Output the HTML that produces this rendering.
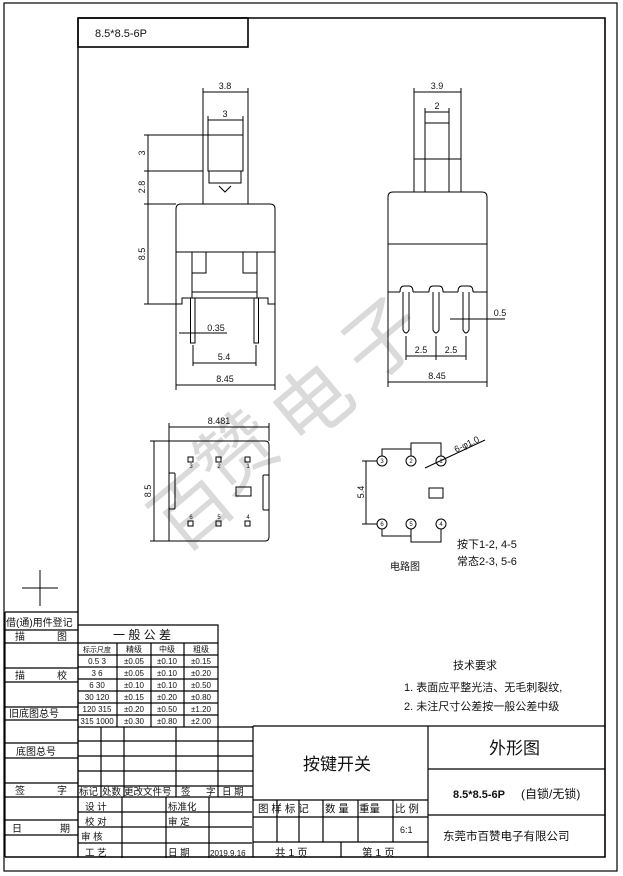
<!DOCTYPE html>
<html><head><meta charset="utf-8"><style>
html,body{margin:0;padding:0;background:#fff}
svg{display:block}
text{font-family:"Liberation Sans","Noto Sans CJK SC",sans-serif;fill:#111}
.c{font-family:"Noto Serif CJK SC","Noto Sans CJK SC",serif}
</style></head><body>
<svg width="623" height="876" viewBox="0 0 623 876" xmlns="http://www.w3.org/2000/svg">
<g fill="none" stroke="#000" stroke-width="1.2">
<rect x="4" y="3" width="613" height="868"/>
<path d="M78 18H605V857H5" stroke-width="1.6"/>
<path d="M78 18V857" stroke-width="1.4"/>
<rect x="78" y="18" width="170" height="29" stroke-width="1.6"/>
<path d="M5 612H78M5 630H78M5 643H78M5 668H78M5 682H78M5 707H78M5 720H78M5 743H78M5 758H78M5 783H78M5 797H78M5 820H78M5 835H78M5 612V857"/>
<path d="M22 588H58M40 570V606" stroke-width="1"/>
<path d="M78 625H218V727M78 643H218M78 655H218M78 667H218M78 679H218M78 691H218M78 703H218M78 715H218M78 727H253M117 643V727M151 643V727M184 643V727"/>
<path d="M78 741H253M78 756H253M78 771H253M78 786H253M78 797H253M101 727V797M124 727V797M176 727V797M218 727V797M253 726V857"/>
<path d="M78 812H252M78 827H252M78 843H252M122 797V858M166 797V858M209 797V858"/>
<path d="M253 726H605M428 726V857M253 800H428M253 817H428M253 842H428M277 800V842M299 800V842M323 800V842M358 800V842M393 800V842M341 842V857M428 769H605M428 815H605"/>
</g>
<g font-size="78" style="font-family:'Noto Sans CJK SC',sans-serif">
<text transform="translate(370,385) rotate(-40)" style="fill:#dadada">子</text>
<text transform="translate(300,450) rotate(-40)" style="fill:#dadada">电</text>
<text transform="translate(225,500) rotate(-40)" style="fill:#dadada">赞</text>
<text transform="translate(180,555) rotate(-40)" style="fill:#dadada">百</text>
</g>
<g fill="none" stroke="#000" stroke-width="1">
<path d="M203 88V204M248 88V204M203 92H248M208 116V135M243 116V135M208 120H243"/>
<rect x="208" y="135" width="35" height="36"/>
<path d="M209 171V183H241V171M219 186L225 192L231 186"/>
<path d="M176 304V209Q176 204 181 204H270Q275 204 275 209V304M176 252H275M176 304H182V298H268V304H275"/>
<path d="M192 252V298M257 252V298M192 273H206V252M243 252V273H257M192 292H257"/>
<rect x="190.5" y="298" width="4.5" height="45"/><rect x="254" y="298" width="4.5" height="45"/>
<path d="M179 333H227M193 345V366M256 345V366M193 363H256M176 304V390M275 304V390M176 385H275"/>
<path d="M148 135V304M144 135H208M144 171H203M144 204H176M144 304H176"/>
</g>
<g font-size="9" text-anchor="middle">
<text x="225" y="89">3.8</text><text x="225" y="117">3</text>
<text x="216" y="331">0.35</text><text x="224" y="360">5.4</text><text x="225" y="382">8.45</text>
<text transform="translate(145,153) rotate(-90)">3</text>
<text transform="translate(145,187) rotate(-90)">2.8</text>
<text transform="translate(145,254) rotate(-90)">8.5</text>
</g>
<g fill="none" stroke="#000" stroke-width="1">
<path d="M414 88V159M461 88V159M414 92H461M425 108V123M449 108V123M425 112H449"/>
<rect x="425" y="123" width="24" height="36"/>
<rect x="414" y="159" width="47" height="33"/><path d="M425 159V192M449 159V192"/>
<path d="M388 292V197Q388 192 393 192H482Q487 192 487 197V292M388 244H487M388 292H400M413 292H429M443 292H458M473 292H487"/>
<path d="M400 292Q400 286 404 286H409Q413 286 413 292M429 292Q429 286 433 286H439Q443 286 443 292M458 292Q458 286 462 286H469Q473 286 473 292"/>
<path d="M403 292V330Q406 336 409 330V292M433 292V330Q436 336 439 330V292M463 292V330Q466 336 469 330V292"/>
<path d="M450 319H505M406 336V360M436 336V360M466 336V360M406 356H466M388 292V387M487 292V387M388 382H487"/>
</g>
<g font-size="9" text-anchor="middle">
<text x="437" y="89">3.9</text><text x="437" y="109">2</text>
<text x="500" y="316">0.5</text><text x="421" y="353">2.5</text><text x="451" y="353">2.5</text><text x="437" y="379">8.45</text>
</g>
<g fill="none" stroke="#000" stroke-width="1">
<path d="M169 423V441M269 423V441M169 427H269"/>
<path d="M169 441H265Q269 441 269 445V537Q269 541 265 541H169Z"/>
<rect x="169" y="473" width="6" height="36" rx="1"/><rect x="263" y="475" width="6" height="35" rx="1"/>
<path d="M150 441H169M150 541H169M154 441V541"/>
<rect x="188" y="457" width="5" height="5"/><rect x="216" y="457" width="5" height="5"/><rect x="245" y="457" width="5" height="5"/>
<rect x="188" y="521" width="5" height="5"/><rect x="216" y="521" width="5" height="5"/><rect x="245" y="521" width="5" height="5"/>
<rect x="236" y="487" width="15" height="9"/>
</g>
<g font-size="6" text-anchor="middle">
<text x="191" y="468">3</text><text x="219" y="468">2</text><text x="248" y="468">1</text>
<text x="191" y="519">6</text><text x="219" y="519">5</text><text x="248" y="519">4</text>
<text x="219" y="424" font-size="9">8.481</text>
<text transform="translate(151,491) rotate(-90)" font-size="9">8.5</text>
</g>
<g fill="none" stroke="#000" stroke-width="1">
<circle cx="382" cy="461" r="5"/><circle cx="411" cy="461" r="5"/><circle cx="441" cy="461" r="5"/>
<circle cx="382" cy="524" r="5"/><circle cx="411" cy="524" r="5"/><circle cx="441" cy="524" r="5"/>
<path d="M382 456V449H411V456M411 449V443H441V456M382 529V536H411V529M411 536V542H441V529"/>
<path d="M362 461H377M362 524H377M366 461V524M425 468L485 440"/>
<rect x="429" y="488" width="14" height="10"/>
</g>
<g font-size="6" text-anchor="middle">
<text x="382" y="463">3</text><text x="411" y="463">2</text><text x="441" y="463">1</text>
<text x="382" y="526">6</text><text x="411" y="526">5</text><text x="441" y="526">4</text>
<text transform="translate(364,492) rotate(-90)" font-size="9">5.4</text>
<text transform="translate(468,447) rotate(-25)" font-size="9">6-φ1.0</text>
</g>
<g font-size="11" class="c">
<text x="390" y="570" font-size="10">电路图</text>
<text x="457" y="548">按下1-2, 4-5</text>
<text x="457" y="565">常态2-3, 5-6</text>
<text x="453" y="669">技术要求</text>
<text x="404" y="691">1. 表面应平整光洁、无毛刺裂纹,</text>
<text x="404" y="710">2. 未注尺寸公差按一般公差中级</text>
</g>
<text x="95" y="37" font-size="11">8.5*8.5-6P</text>
<g font-size="10" class="c">
<text x="6" y="626">借(通)用件登记</text>
<text x="15" y="640">描</text><text x="57" y="640">图</text>
<text x="15" y="679">描</text><text x="57" y="679">校</text>
<text x="9" y="717">旧底图总号</text>
<text x="16" y="755">底图总号</text>
<text x="15" y="794">签</text><text x="57" y="794">字</text>
<text x="12" y="832">日</text><text x="60" y="832">期</text>
<text x="113" y="639" font-size="12">一 般 公 差</text>
</g>
<g font-size="8" class="c" text-anchor="middle">
<text x="97" y="652" font-size="7">标示尺度</text><text x="134" y="652">精级</text><text x="167" y="652">中级</text><text x="201" y="652">粗级</text>
</g>
<g font-size="8" text-anchor="middle">
<text x="97" y="664">0.5   3</text><text x="134" y="664">±0.05</text><text x="167" y="664">±0.10</text><text x="201" y="664">±0.15</text>
<text x="97" y="676">3   6</text><text x="134" y="676">±0.05</text><text x="167" y="676">±0.10</text><text x="201" y="676">±0.20</text>
<text x="97" y="688">6   30</text><text x="134" y="688">±0.10</text><text x="167" y="688">±0.10</text><text x="201" y="688">±0.50</text>
<text x="97" y="700">30  120</text><text x="134" y="700">±0.15</text><text x="167" y="700">±0.20</text><text x="201" y="700">±0.80</text>
<text x="97" y="712">120  315</text><text x="134" y="712">±0.20</text><text x="167" y="712">±0.50</text><text x="201" y="712">±1.20</text>
<text x="97" y="724">315 1000</text><text x="134" y="724">±0.30</text><text x="167" y="724">±0.80</text><text x="201" y="724">±2.00</text>
</g>
<g font-size="9.5" class="c">
<text x="79" y="795">标记</text><text x="102" y="795">处数</text><text x="124" y="795">更改文件号</text><text x="181" y="795">签</text><text x="206" y="795">字</text><text x="222" y="795">日 期</text>
<text x="85" y="810">设  计</text><text x="168" y="810">标准化</text>
<text x="85" y="825">校  对</text><text x="168" y="825">审  定</text>
<text x="81" y="840">审  核</text>
<text x="85" y="856">工  艺</text><text x="168" y="856">日  期</text>
<text x="258" y="812" font-size="10.5">图 样 标 记</text><text x="325" y="812" font-size="10.5">数 量</text><text x="359" y="812" font-size="10.5">重量</text><text x="395" y="812" font-size="10.5">比 例</text>
<text x="275" y="856" font-size="10.5">共  1  页</text><text x="362" y="856" font-size="10.5">第  1  页</text>
<text x="303" y="770" font-size="17">按键开关</text>
<text x="489" y="754" font-size="17">外形图</text>
<text x="443" y="840" font-size="11.5">东莞市百赞电子有限公司</text>
<text x="521" y="798" font-size="12">(自锁/无锁)</text>
</g>
<text x="210" y="856" font-size="8">2019.9.16</text>
<text x="400" y="833" font-size="9">6:1</text>
<text x="453" y="798" font-size="11" font-weight="bold">8.5*8.5-6P</text>
</svg>
</body></html>
